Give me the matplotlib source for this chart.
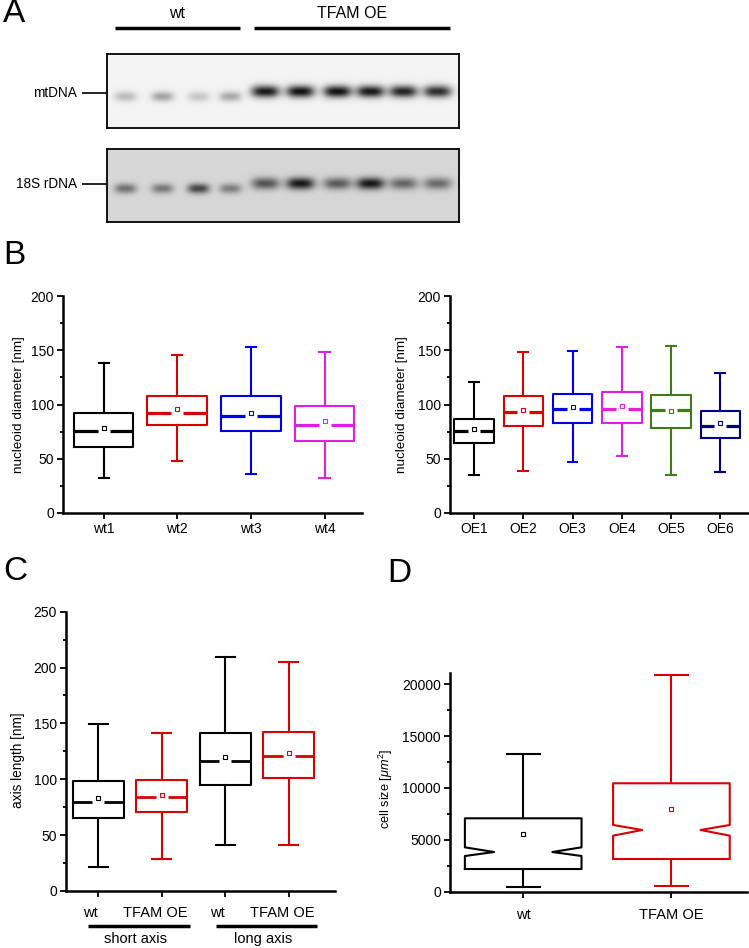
import numpy as np
import matplotlib
matplotlib.use("Agg")
import matplotlib.pyplot as plt

plt.rcParams['font.family'] = ['Liberation Sans', 'DejaVu Sans']
plt.rcParams['mathtext.fontset'] = 'custom'
plt.rcParams['mathtext.rm'] = 'Liberation Sans'
plt.rcParams['mathtext.it'] = 'Liberation Sans:italic'

W, H = 749, 948

# ---------------- data ----------------
# Panel A: gel lanes
lane_groups = ["wt", "TFAM OE"]
lane_x = [125, 162, 198, 230, 265, 300, 337, 370, 403, 437]
mt_intensity = [0.25, 0.35, 0.2, 0.33, 0.97, 1.0, 1.0, 0.97, 0.92, 0.88]
rdna_intensity = [0.45, 0.42, 0.65, 0.4, 0.58, 0.85, 0.55, 0.85, 0.5, 0.48]

# Panel B (nucleoid diameter, nm)
b_wt_labels = ["wt1", "wt2", "wt3", "wt4"]
b_wt_whislo = [32, 47.5, 35.5, 32]
b_wt_q1 = [61, 80.7, 75.5, 66]
b_wt_med = [75.5, 92, 89.5, 81]
b_wt_q3 = [92.5, 107.4, 107.4, 99]
b_wt_whishi = [138.7, 145.5, 153.4, 148]
b_wt_mean = [78.5, 95.7, 92, 84.5]

b_oe_labels = ["OE1", "OE2", "OE3", "OE4", "OE5", "OE6"]
b_oe_whislo = [35.3, 39, 46.6, 52.5, 35.3, 37.4]
b_oe_q1 = [64.4, 79.8, 83.4, 83.4, 78.8, 69]
b_oe_med = [75.5, 93, 96, 96, 95, 80.4]
b_oe_q3 = [86.8, 107.4, 109.8, 111.3, 109, 93.6]
b_oe_whishi = [120.6, 148.2, 149.4, 152.8, 154.3, 129.4]
b_oe_mean = [77.6, 94.5, 97.5, 99, 94.2, 82.8]

# Panel C (axis length, nm)
c_labels = ["wt", "TFAM OE", "wt", "TFAM OE"]
c_groups = ["short axis", "long axis"]
c_whislo = [21.8, 28.6, 40.9, 40.9]
c_q1 = [65.1, 71, 94.9, 100.8]
c_med = [80, 83.9, 116.6, 120.8]
c_q3 = [98.8, 99.4, 141, 142.3]
c_whishi = [149.5, 141.8, 209.7, 205]
c_mean = [83.6, 86, 119.6, 123.2]

# Panel D (cell size, um^2)
d_labels = ["wt", "TFAM OE"]
d_whislo = [482, 547]
d_q1 = [2186, 3151]
d_cilo = [3440, 5402]
d_med = [3826, 5949]
d_cihi = [4277, 6431]
d_q3 = [7074, 10450]
d_whishi = [13280, 20868]
d_mean = [5563, 7974]

BLACK = "#000000"
RED = "#d80000"
BLUE = "#0000e6"
MAGENTA = "#e020e0"
GREEN = "#3f7a1c"
NAVY = "#000080"
b_wt_colors = [BLACK, RED, BLUE, MAGENTA]
b_oe_colors = [BLACK, RED, BLUE, MAGENTA, GREEN, NAVY]
c_colors = [BLACK, RED, BLACK, RED]
d_colors = [BLACK, RED]

fig = plt.figure(figsize=(W / 100, H / 100), dpi=100)


def px(x0, y0, x1, y1):
    return [x0 / W, 1 - y1 / H, (x1 - x0) / W, (y1 - y0) / H]


def ftext(x, y, s, **kw):
    fig.text(x / W, 1 - y / H, s, **kw)


def fline(x0, x1, y, lw=2.5):
    fig.add_artist(plt.Line2D([x0 / W, x1 / W], [1 - y / H, 1 - y / H],
                              color="black", lw=lw, solid_capstyle="butt"))


# ---------------- Panel A ----------------
ftext(3, 14, "A", fontsize=24, va="center", ha="left")
ftext(177, 14, lane_groups[0], fontsize=11.5, ha="center", va="center")
ftext(352, 14, lane_groups[1], fontsize=11.5, ha="center", va="center")
fline(115, 240, 28)
fline(254, 450, 28)


def draw_gel(y0, y1, intensities, bg, y_wt, y_oe, label, label_y):
    gx0, gx1 = 107, 459
    ax = fig.add_axes(px(gx0, y0, gx1, y1))
    ny, nx = int(y1 - y0), int(gx1 - gx0)
    yy, xx = np.mgrid[0:ny, 0:nx]
    img = np.full((ny, nx), bg, dtype=float)
    for i, (cx, inten) in enumerate(zip(lane_x, intensities)):
        wt = i < 4
        cy = y_wt if wt else y_oe
        wx = 11 if wt else 14
        wy = 5.0 if wt else 6.0
        img -= inten * 0.88 * np.exp(-(np.abs((xx - (cx - gx0)) / wx) ** 3)) * np.exp(-(((yy - cy) / wy) ** 2))
    img = np.clip(img, 0, 1)
    ax.imshow(img, cmap="gray", vmin=0, vmax=1, aspect="auto", interpolation="bilinear")
    ax.set_xticks([])
    ax.set_yticks([])
    for s in ax.spines.values():
        s.set_linewidth(1.3)
    ftext(77, label_y, label, fontsize=9.8, ha="right", va="center")
    fline(82, 107, label_y, lw=1.2)


draw_gel(54, 128, mt_intensity, 0.95, 42, 37, "mtDNA", 93)
draw_gel(149, 222, rdna_intensity, 0.84, 39, 34, "18S rDNA", 184)


# ---------------- box plot helper ----------------
def style_axes(ax):
    for s in ["top", "right"]:
        ax.spines[s].set_visible(False)
    for s in ["left", "bottom"]:
        ax.spines[s].set_linewidth(1.8)
    ax.tick_params(axis="both", direction="out", width=1.3, length=4.5, labelsize=10, pad=2)
    ax.tick_params(axis="y", which="minor", direction="out", width=1.3, length=2.5)
    ax.tick_params(axis="x", which="minor", length=0)


def boxes(ax, whislo, q1, med, q3, whishi, mean, colors, cilo=None, cihi=None,
          notch=False, width=0.8, capw=0.2, medlw=2.0, showmed=True, gap=True):
    for i in range(len(med)):
        st = dict(whislo=whislo[i], q1=q1[i], med=med[i], q3=q3[i], whishi=whishi[i],
                  mean=mean[i], fliers=[])
        if notch:
            st["cilo"] = cilo[i]
            st["cihi"] = cihi[i]
        c = colors[i]
        ax.bxp([st], positions=[i + 1], widths=[width], capwidths=[capw],
               shownotches=notch, showmeans=True, showfliers=False,
               boxprops=dict(color=c, lw=1.5),
               whiskerprops=dict(color=c, lw=1.5),
               capprops=dict(color=c, lw=1.5),
               medianprops=dict(color=c, lw=medlw if showmed else 0,
                                solid_capstyle="butt", zorder=2),
               meanprops=dict(marker="s", markersize=3.4, markerfacecolor="white",
                              markeredgecolor=c, markeredgewidth=0.8, zorder=5))
        if gap:
            ax.plot([i + 1], [mean[i]], marker="s", markersize=9, markerfacecolor="white",
                    markeredgecolor="none", zorder=4, linestyle="none")


# ---------------- Panel B ----------------
ftext(3, 255, "B", fontsize=24, va="center", ha="left")

axb1 = fig.add_axes(px(63, 296, 362, 513))
boxes(axb1, b_wt_whislo, b_wt_q1, b_wt_med, b_wt_q3, b_wt_whishi, b_wt_mean, b_wt_colors,
      width=0.81, capw=0.14, medlw=2.3)
axb1.set_xlim(0.448, 4.507)
axb1.set_ylim(0, 200)
axb1.set_yticks([0, 50, 100, 150, 200])
axb1.set_yticks([25, 75, 125, 175], minor=True)
axb1.set_xticks(range(1, 5))
axb1.set_xticklabels(b_wt_labels)
axb1.set_ylabel("nucleoid diameter [nm]", fontsize=9.7)
axb1.yaxis.set_label_coords(-0.127, 0.5)
style_axes(axb1)

axb2 = fig.add_axes(px(450, 296, 748, 513))
boxes(axb2, b_oe_whislo, b_oe_q1, b_oe_med, b_oe_q3, b_oe_whishi, b_oe_mean, b_oe_colors,
      width=0.80, capw=0.2, medlw=2.3)
axb2.set_xlim(0.514, 6.56)
axb2.set_ylim(0, 200)
axb2.set_yticks([0, 50, 100, 150, 200])
axb2.set_yticks([25, 75, 125, 175], minor=True)
axb2.set_xticks(range(1, 7))
axb2.set_xticklabels(b_oe_labels)
axb2.set_ylabel("nucleoid diameter [nm]", fontsize=9.7)
axb2.yaxis.set_label_coords(-0.141, 0.5)
style_axes(axb2)

# ---------------- Panel C ----------------
ftext(3, 572, "C", fontsize=24, va="center", ha="left")

axc = fig.add_axes(px(66, 611.7, 335, 891))
boxes(axc, c_whislo, c_q1, c_med, c_q3, c_whishi, c_mean, c_colors,
      width=0.80, capw=0.3)
axc.set_xlim(0.49, 4.73)
axc.set_ylim(0, 250)
axc.set_yticks([0, 50, 100, 150, 200, 250])
axc.set_yticks([25, 75, 125, 175, 225], minor=True)
axc.set_xticks(range(1, 5))
axc.set_xticklabels([])
axc.set_ylabel("axis length [nm]", fontsize=9.8)
axc.yaxis.set_label_coords(-0.152, 0.47)
style_axes(axc)
for pos, lab in zip(range(1, 5), c_labels):
    off = -0.12 if lab == "wt" else -0.1
    axc.text(pos + off, -0.08, lab, transform=axc.get_xaxis_transform(),
             ha="center", va="center", fontsize=10.5)
fline(88, 190, 926, lw=2.5)
fline(216, 317, 926, lw=2.5)
ftext(135, 939, c_groups[0], fontsize=10.5, ha="center", va="center")
ftext(263, 939, c_groups[1], fontsize=10.5, ha="center", va="center")

# ---------------- Panel D ----------------
ftext(387, 573, "D", fontsize=24, va="center", ha="left")

axd = fig.add_axes(px(450, 673.3, 747, 891.7))
boxes(axd, d_whislo, d_q1, d_med, d_q3, d_whishi, d_mean, d_colors,
      cilo=d_cilo, cihi=d_cihi, notch=True, width=0.787, capw=0.22, showmed=False, gap=False)
axd.set_xlim(0.506, 2.51)
axd.set_ylim(0, 21050)
axd.set_yticks([0, 5000, 10000, 15000, 20000])
axd.set_yticks([2500, 7500, 12500, 17500], minor=True)
axd.set_xticks([1, 2])
axd.set_xticklabels(d_labels)
axd.set_ylabel(r"cell size [$\mu m^2$]", fontsize=9.2)
axd.yaxis.set_label_coords(-0.185, 0.47)
style_axes(axd)
axd.tick_params(axis="x", labelsize=10.5, pad=7)

fig.savefig("out.png", dpi=100)
